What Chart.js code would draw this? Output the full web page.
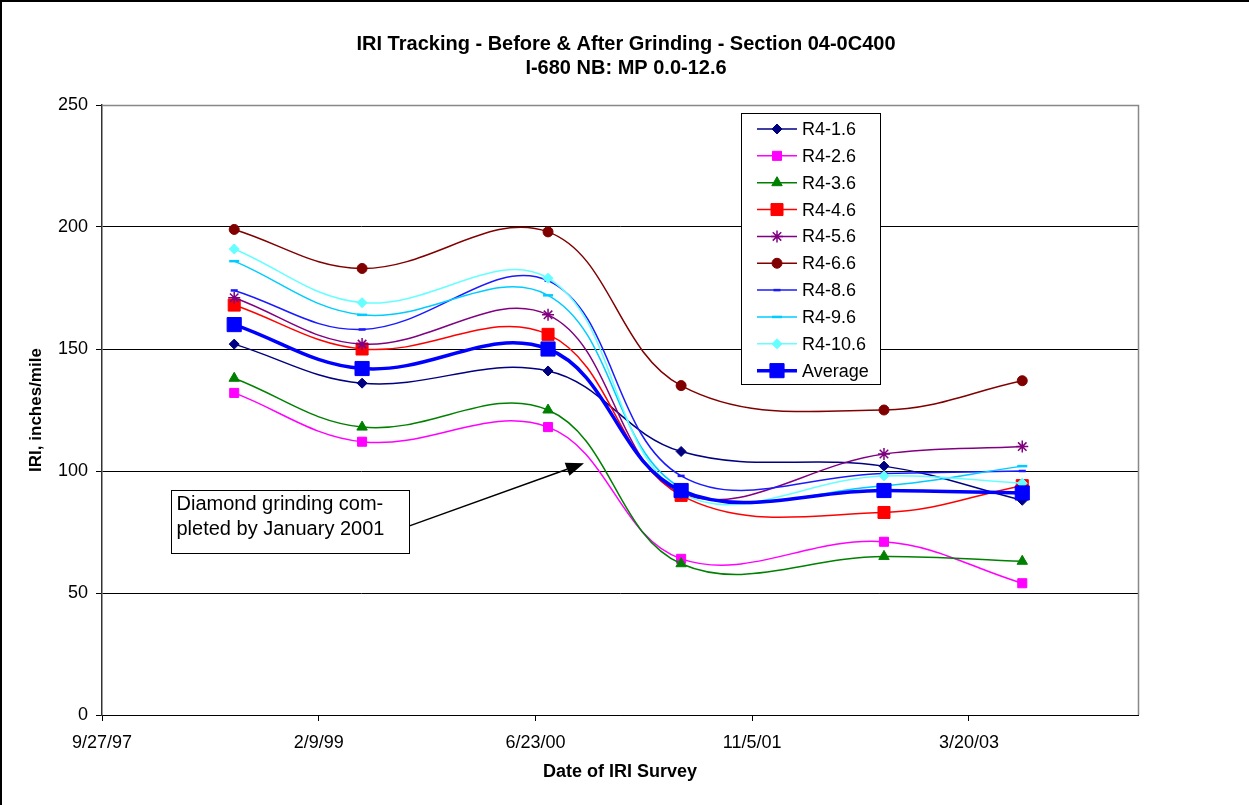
<!DOCTYPE html>
<html><head><meta charset="utf-8">
<script src="https://cdn.jsdelivr.net/npm/chart.js@4/dist/chart.umd.min.js"></script>
<style>html,body{margin:0;padding:0;background:#fff;overflow:hidden}#wrap{width:1249px;height:805px;position:relative}canvas{display:block}</style>
</head><body><div id="wrap"><canvas id="c" width="1249" height="805"></canvas></div>
<script>
// ---- Data ----
const chartTitle = ['IRI Tracking - Before & After Grinding - Section 04-0C400', 'I-680 NB: MP 0.0-12.6'];
const xAxisTitle = 'Date of IRI Survey';
const yAxisTitle = 'IRI, inches/mile';
// survey dates as Excel date serial numbers (days)
const surveyDates = [36005, 36300, 36729, 37036, 37504, 37823];
const xTickValues = [35700, 36200, 36700, 37200, 37700];
const xTickLabels = ['9/27/97', '2/9/99', '6/23/00', '11/5/01', '3/20/03'];
const yTickValues = [0, 50, 100, 150, 200, 250];
const seriesNames = ['R4-1.6', 'R4-2.6', 'R4-3.6', 'R4-4.6', 'R4-5.6', 'R4-6.6', 'R4-8.6', 'R4-9.6', 'R4-10.6', 'Average'];
const r4_1_6  = [152, 136, 141, 108, 102, 88];
const r4_2_6  = [132, 112, 118, 64, 71, 54];
const r4_3_6  = [138, 118, 125, 62, 65, 63];
const r4_4_6  = [168, 150, 156, 90, 83, 94];
const r4_5_6  = [171, 152, 164, 91, 107, 110];
const r4_6_6  = [199, 183, 198, 135, 125, 137];
const r4_8_6  = [174, 158, 178, 98, 99, 100];
const r4_9_6  = [186, 164, 172, 93, 94, 102];
const r4_10_6 = [191, 169, 179, 91, 98, 95];
const average = [160, 142, 150, 92, 92, 91];
const annotationText = ['Diamond grinding com-', 'pleted by January 2001'];

// ---- Styles ----
const FONT = '"Liberation Sans", Arial, Helvetica, sans-serif';
const seriesValues = [r4_1_6, r4_2_6, r4_3_6, r4_4_6, r4_5_6, r4_6_6, r4_8_6, r4_9_6, r4_10_6, average];
const seriesStyles = [
  {line: '#000080', fill: '#000080', ps: 'rectRot', r: 5, lw: 1.5, pbw: 1},
  {line: '#FF00FF', fill: '#FF00FF', ps: 'rect', r: 6.4, lw: 1.5, pbw: 1},
  {line: '#008000', fill: '#008000', ps: 'triangle', r: 6, lw: 1.5, pbw: 1},
  {line: '#FF0000', fill: '#FF0000', ps: 'rect', r: 8.5, lw: 1.5, pbw: 1},
  {line: '#800080', fill: '#800080', ps: 'star', r: 6, lw: 1.5, pbw: 1.5},
  {line: '#800000', fill: '#800000', ps: 'circle', r: 5, lw: 1.5, pbw: 1},
  {line: '#1A1AFF', fill: '#1A1AFF', ps: 'line', r: 3.5, lw: 1.5, pbw: 2.5},
  {line: '#00CCFF', fill: '#00CCFF', ps: 'line', r: 5, lw: 1.5, pbw: 2.5},
  {line: '#66FFFF', fill: '#66FFFF', ps: 'rectRot', r: 5, lw: 1.5, pbw: 1},
  {line: '#0000FF', fill: '#0000FF', ps: 'rect', r: 10, lw: 3.5, pbw: 1}
];

const datasets = seriesNames.map((name, i) => ({
  label: name,
  data: surveyDates.map((d, j) => ({x: d, y: seriesValues[i][j]})),
  borderColor: seriesStyles[i].line,
  backgroundColor: seriesStyles[i].fill,
  borderWidth: seriesStyles[i].lw,
  pointStyle: seriesStyles[i].ps,
  pointRadius: seriesStyles[i].r,
  pointBorderWidth: seriesStyles[i].pbw,
  pointBorderColor: seriesStyles[i].fill,
  pointBackgroundColor: seriesStyles[i].fill,
  tension: 0.38,
  fill: false,
  order: seriesNames.length - i
}));

// annotation anchored in data units
const annotation = {boxX0: 35860, boxX1: 36409, boxY0: 92.2, boxY1: 66.4, arrowFromY: 77.5, tipX: 36812, tipY: 103.2};

function drawMarker(ctx, style, x, y) {
  ctx.save();
  ctx.fillStyle = style.fill; ctx.strokeStyle = style.fill; ctx.lineWidth = style.pbw;
  if (Chart.helpers && Chart.helpers.drawPoint) {
    Chart.helpers.drawPoint(ctx, {pointStyle: style.ps, radius: style.r, rotation: 0, borderWidth: style.pbw}, x, y);
  }
  ctx.restore();
}

const framePlugin = {
  id: 'frame',
  beforeDraw(chart) {
    const ctx = chart.ctx;
    ctx.save();
    ctx.fillStyle = '#fff'; ctx.fillRect(0, 0, chart.width, chart.height);
    ctx.fillStyle = '#000';
    ctx.fillRect(0, 0, 2, chart.height);
    ctx.fillRect(0, 0, chart.width, 2);
    // title
    ctx.fillStyle = '#000';
    ctx.font = 'bold 20px ' + FONT;
    ctx.textAlign = 'center'; ctx.textBaseline = 'middle';
    ctx.fillText(chartTitle[0], 626, 44);
    ctx.fillText(chartTitle[1], 626, 68);
    ctx.restore();
  },
  beforeDatasetsDraw(chart) {
    const ctx = chart.ctx, a = chart.chartArea;
    ctx.save();
    ctx.strokeStyle = '#888'; ctx.lineWidth = 1.5;
    ctx.beginPath();
    ctx.moveTo(a.left, a.top + 0.5); ctx.lineTo(a.right + 0.5, a.top + 0.5); ctx.lineTo(a.right + 0.5, a.bottom);
    ctx.stroke();
    ctx.restore();
  },
  afterDraw(chart) {
    const ctx = chart.ctx, xs = chart.scales.x, ys = chart.scales.y;
    ctx.save();
    // annotation box
    const bx0 = Math.round(xs.getPixelForValue(annotation.boxX0)) + 0.5;
    const bx1 = Math.round(xs.getPixelForValue(annotation.boxX1)) + 0.5;
    const by0 = Math.round(ys.getPixelForValue(annotation.boxY0)) + 0.5;
    const by1 = Math.round(ys.getPixelForValue(annotation.boxY1)) + 0.5;
    ctx.fillStyle = '#fff'; ctx.fillRect(bx0, by0, bx1 - bx0, by1 - by0);
    ctx.strokeStyle = '#000'; ctx.lineWidth = 1; ctx.strokeRect(bx0, by0, bx1 - bx0, by1 - by0);
    ctx.fillStyle = '#000'; ctx.font = '20px ' + FONT; ctx.textAlign = 'left'; ctx.textBaseline = 'middle';
    ctx.fillText(annotationText[0], bx0 + 5, by0 + 14);
    ctx.fillText(annotationText[1], bx0 + 5, by0 + 39);
    // arrow
    const sx = bx1, sy = ys.getPixelForValue(annotation.arrowFromY);
    const tx = xs.getPixelForValue(annotation.tipX), ty = ys.getPixelForValue(annotation.tipY);
    const ang = Math.atan2(ty - sy, tx - sx);
    const hl = 18, hw = 7;
    const bxp = tx - hl * Math.cos(ang), byp = ty - hl * Math.sin(ang);
    ctx.beginPath(); ctx.moveTo(sx, sy); ctx.lineTo(bxp, byp); ctx.lineWidth = 1.5; ctx.stroke();
    ctx.beginPath();
    ctx.moveTo(tx, ty);
    ctx.lineTo(bxp + hw * Math.sin(ang), byp - hw * Math.cos(ang));
    ctx.lineTo(bxp - hw * Math.sin(ang), byp + hw * Math.cos(ang));
    ctx.closePath(); ctx.fill();
    // legend
    const L = {x0: 741, y0: 113, x1: 880, y1: 384, rowY: 129, rowH: 26.85};
    ctx.fillStyle = '#fff'; ctx.fillRect(L.x0, L.y0, L.x1 - L.x0, L.y1 - L.y0);
    ctx.strokeStyle = '#000'; ctx.lineWidth = 1; ctx.strokeRect(L.x0 + 0.5, L.y0 + 0.5, L.x1 - L.x0, L.y1 - L.y0);
    ctx.font = '18px ' + FONT; ctx.textBaseline = 'middle'; ctx.textAlign = 'left';
    seriesNames.forEach((name, i) => {
      const y = L.rowY + i * L.rowH, st = seriesStyles[i];
      ctx.strokeStyle = st.line; ctx.lineWidth = st.lw;
      ctx.beginPath(); ctx.moveTo(757, y); ctx.lineTo(797, y); ctx.stroke();
      drawMarker(ctx, st, 777, y);
      ctx.fillStyle = '#000';
      ctx.fillText(name, 802, y + 1);
    });
    ctx.restore();
  }
};

new Chart(document.getElementById('c'), {
  type: 'line',
  data: {datasets},
  plugins: [framePlugin],
  options: {
    responsive: false, animation: false, devicePixelRatio: 1,
    layout: {padding: {top: 105, right: 111, bottom: 0, left: 0}},
    plugins: {legend: {display: false}, tooltip: {enabled: false}, title: {display: false}},
    scales: {
      x: {
        type: 'linear', min: 35700, max: 38090,
        afterBuildTicks: s => { s.ticks = xTickValues.map(v => ({value: v})); },
        afterFit: s => { s.height = 90; },
        ticks: {callback: (v, i) => xTickLabels[i], font: {family: FONT, size: 18}, color: '#000', padding: 11, maxRotation: 0, autoSkip: false},
        grid: {drawOnChartArea: false, drawTicks: true, tickLength: 6, tickColor: '#000'},
        border: {display: true, color: '#000', width: 1},
        title: {display: true, text: xAxisTitle, color: '#000', font: {family: FONT, size: 18, weight: 'bold'}, padding: {top: 0, bottom: 22}}
      },
      y: {
        min: 0, max: 250,
        afterBuildTicks: s => { s.ticks = yTickValues.map(v => ({value: v})); },
        afterFit: s => { s.width = 102; },
        ticks: {font: {family: FONT, size: 18}, color: '#000', padding: 8},
        grid: {color: c => (c.tick && c.tick.value === 250) ? '#888' : '#000', lineWidth: 1, tickLength: 6, tickColor: '#000'},
        border: {display: true, color: '#333', width: 1.5},
        title: {display: true, text: yAxisTitle, color: '#000', font: {family: FONT, size: 17, weight: 'bold'}, padding: {top: 26, bottom: 0}}
      }
    }
  }
});
</script>
</body></html>
